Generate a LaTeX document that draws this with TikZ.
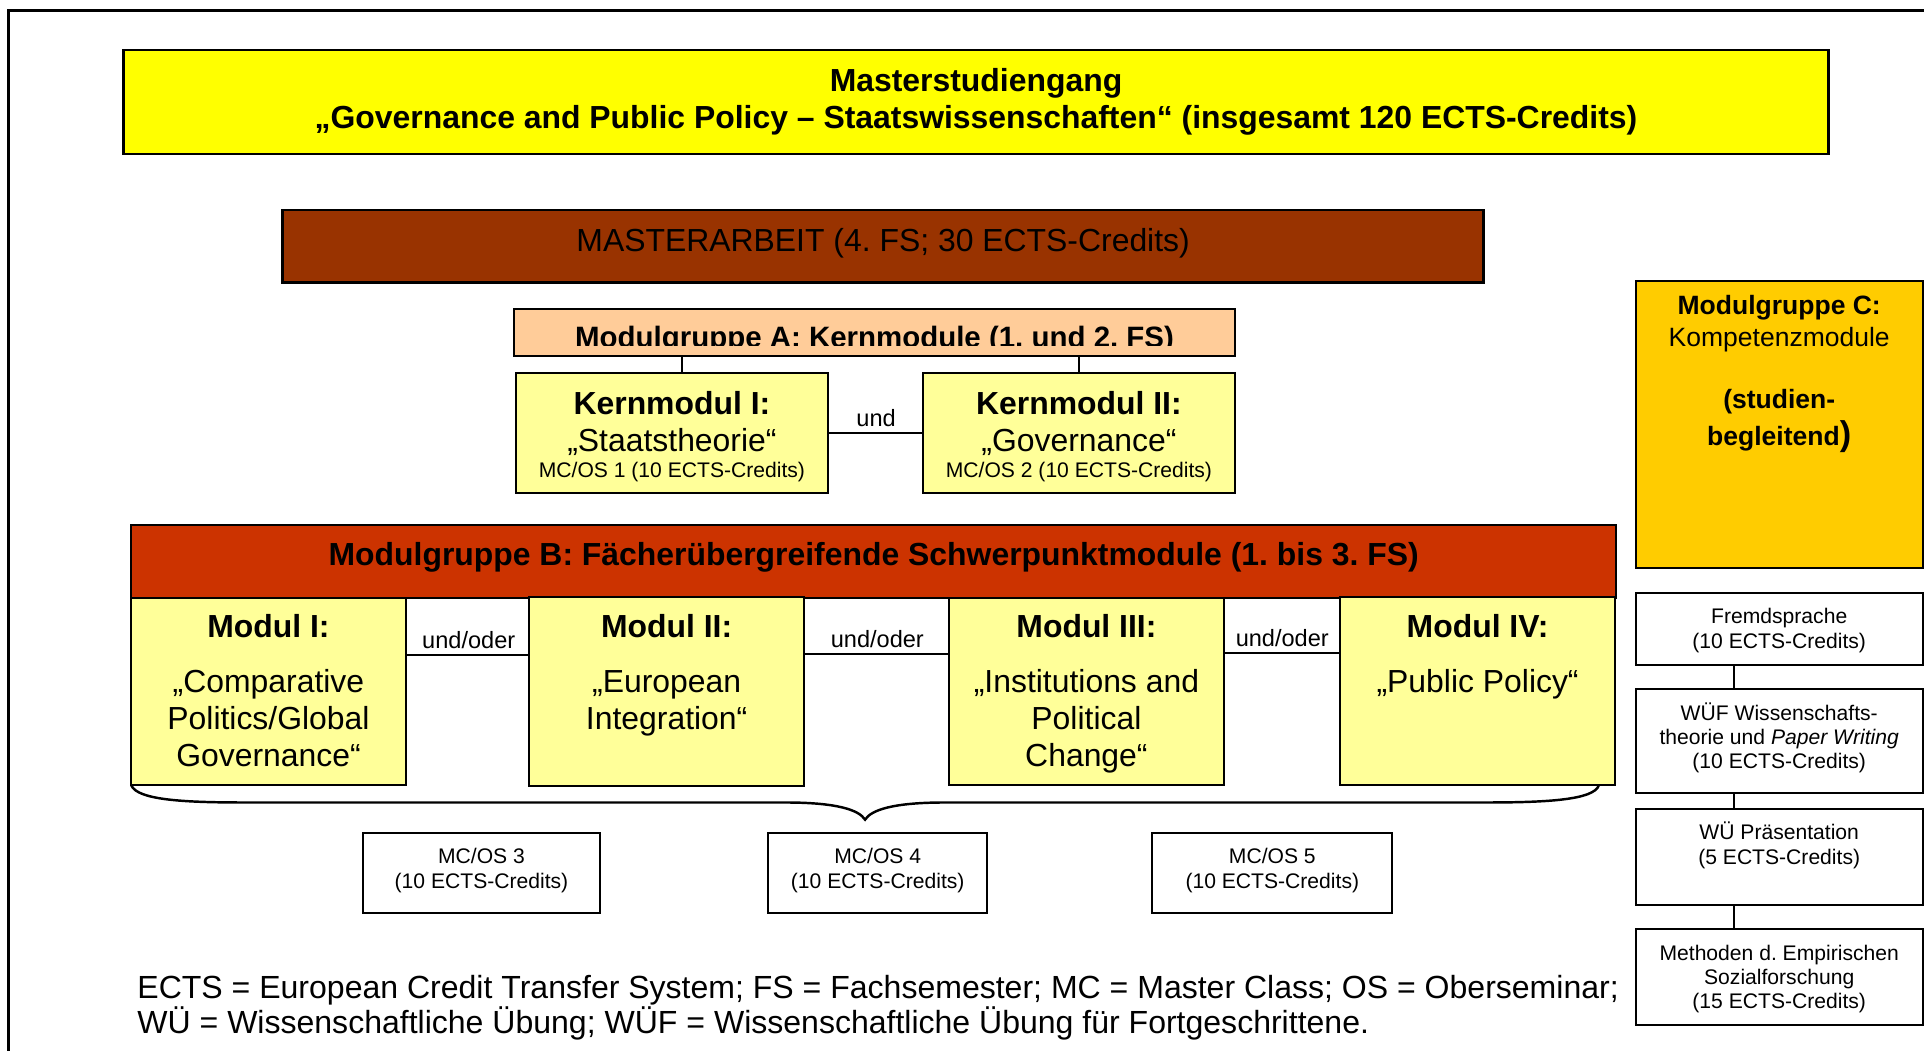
\documentclass[tikz,border=0pt]{standalone}
\usepackage{fontspec}
\setmainfont{Liberation Sans}
\usetikzlibrary{fit}
\frenchspacing
\definecolor{titleyellow}{HTML}{FFFF00}
\definecolor{mabrown}{HTML}{993300}
\definecolor{apeach}{HTML}{FFCC99}
\definecolor{lightyellow}{HTML}{FFFF99}
\definecolor{bred}{HTML}{CC3300}
\definecolor{cgold}{HTML}{FFCC00}
\tikzset{
  box/.style={draw=black, line width=0.8pt, inner sep=0pt, outer sep=0pt},
  thickbox/.style={box, line width=1.1pt},
  conn/.style={draw=black, line width=0.8pt},
  txt/.style={anchor=base, inner sep=0pt, outer sep=0pt, text=black},
  bigb/.style={font=\fontsize{13}{15}\selectfont\bfseries},
  big/.style={font=\fontsize{13}{15}\selectfont},
  foot/.style={font=\fontsize{13.05}{15}\selectfont},
  midb/.style={font=\fontsize{12}{14}\selectfont\bfseries},
  sm/.style={font=\fontsize{8.6}{10}\selectfont},
  smi/.style={font=\fontsize{9.6}{11}\selectfont},
  cf/.style={font=\fontsize{10.8}{12.5}\selectfont},
  cfb/.style={font=\fontsize{10.8}{12.5}\selectfont\bfseries},
}
\begin{document}
\begin{tikzpicture}[x=0.5pt,y=-0.5pt]
\useasboundingbox (0,0) rectangle (1568,856.5);
\fill[white] (0,0) rectangle (1568,856.5);
% outer frame (runs off the right and bottom edges)
\draw[line width=1.2pt] (7.3,900) -- (7.3,8.2) -- (1620,8.2);

% title
\node[thickbox, fill=titleyellow, fit={(100.8,40.8) (1490,125.5)}] (T) {};
\node[txt, bigb] (t1) at (795.4,74.6) {Masterstudiengang};
\node[txt, bigb] (t2) at (795.4,104.6) {„Governance and Public Policy – Staatswissenschaften“ (insgesamt 120 ECTS-Credits)};

% Masterarbeit
\node[thickbox, fill=mabrown, fit={(230.3,171.2) (1209,230.5)}] (MA) {};
\node[txt, big] (tma) at (719.7,205) {MASTERARBEIT (4. FS; 30 ECTS-Credits)};

% Modulgruppe A
\node[box, fill=apeach, fit={(418.8,251.5) (1006.6,290)}] (A) {};
\begin{scope}
  \clip (418.8,251.5) rectangle (1006.6,281.6);
  \node[txt, midb] (tA) at (712.7,283.2) {Modulgruppe A: Kernmodule (1. und 2. FS)};
\end{scope}

\node[box, fill=lightyellow, fit={(420.4,303.7) (674.8,401.5)}] (KI) {};
\node[box, fill=lightyellow, fit={(752,303.7) (1006.6,401.5)}] (KII) {};
\draw[conn] ([xshift=3.95pt]KI.north) -- ([xshift=3.95pt]KI.north |- A.south);
\draw[conn] (KII.north) -- (KII.north |- A.south);
\draw[conn] (KI.east) -- (KII.west);
\node[txt, smi] (und) at (714,347.5) {und};

\node[txt, bigb] (k1a) at (547.6,338) {Kernmodul I:};
\node[txt, big]  (k1b) at (547.6,367.7) {„Staatstheorie“};
\node[txt, sm]   (k1c) at (547.6,389) {MC/OS 1 (10 ECTS-Credits)};
\node[txt, bigb] (k2a) at (879.3,338) {Kernmodul II:};
\node[txt, big]  (k2b) at (879.3,367.7) {„Governance“};
\node[txt, sm]   (k2c) at (879.3,389) {MC/OS 2 (10 ECTS-Credits)};

% Modulgruppe B
\node[box, fill=bred, fit={(107,427.9) (1317,487)}] (B) {};
\node[txt, bigb] (tB) at (712,461) {Modulgruppe B: Fächerübergreifende Schwerpunktmodule (1. bis 3. FS)};

\node[box, fill=lightyellow, fit={(107,487) (330.5,640)}] (M1) {};
\node[box, fill=lightyellow, fit={(431.5,486.3) (655,640.6)}] (M2) {};
\node[box, fill=lightyellow, fit={(773.5,487.5) (997.2,640)}] (M3) {};
\node[box, fill=lightyellow, fit={(1092.4,486.5) (1316,640)}] (M4) {};

\draw[conn] ([yshift=14.75pt]M1.east) -- ([yshift=14.75pt]M1.east -| M2.west);
\draw[conn] ([yshift=15.25pt]M2.east) -- ([yshift=15.25pt]M2.east -| M3.west);
\draw[conn] ([yshift=15.75pt]M3.east) -- ([yshift=15.75pt]M3.east -| M4.west);
\node[txt, smi] (uo1) at (382,528.5) {und/oder};
\node[txt, smi] (uo2) at (715,527.5) {und/oder};
\node[txt, smi] (uo3) at (1045,527) {und/oder};

\node[txt, bigb] (m1a) at (218.8,519.4) {Modul I:};
\node[txt, big]  (m1b) at (218.8,564.5) {„Comparative};
\node[txt, big]  (m1c) at (218.8,594.5) {Politics/Global};
\node[txt, big]  (m1d) at (218.8,624.5) {Governance“};
\node[txt, bigb] (m2a) at (543.3,519.4) {Modul II:};
\node[txt, big]  (m2b) at (543.3,564.5) {„European};
\node[txt, big]  (m2c) at (543.3,594.5) {Integration“};
\node[txt, bigb] (m3a) at (885.4,519.4) {Modul III:};
\node[txt, big]  (m3b) at (885.4,564.5) {„Institutions and};
\node[txt, big]  (m3c) at (885.4,594.5) {Political};
\node[txt, big]  (m3d) at (885.4,624.5) {Change“};
\node[txt, bigb] (m4a) at (1204.2,519.4) {Modul IV:};
\node[txt, big]  (m4b) at (1204.2,564.5) {„Public Policy“};

% brace
\draw[line width=1pt] (M1.south west) .. controls (112,652) and (150,654) .. (200,654)
  -- (640,654) .. controls (682,654) and (700,660) .. (705,668)
  .. controls (710,660) and (728,654) .. (770,654)
  -- (1210,654) .. controls (1260,654) and (1299,652) .. (1303,640);

% MC/OS boxes
\node[box, fit={(295.7,678.6) (489,744.4)}] (OS3) {};
\node[box, fit={(626,678.6) (804.5,744.4)}] (OS4) {};
\node[box, fit={(939,678.6) (1134.7,744.4)}] (OS5) {};
\node[txt, sm] (o3a) at (392.4,704) {MC/OS 3};
\node[txt, sm] (o3b) at (392.4,723.8) {(10 ECTS-Credits)};
\node[txt, sm] (o4a) at (715.3,704) {MC/OS 4};
\node[txt, sm] (o4b) at (715.3,723.8) {(10 ECTS-Credits)};
\node[txt, sm] (o5a) at (1036.9,704) {MC/OS 5};
\node[txt, sm] (o5b) at (1036.9,723.8) {(10 ECTS-Credits)};

% right column
\node[box, fill=cgold, fit={(1333,228.7) (1567,463.2)}] (C) {};
\node[txt, cfb] (c1) at (1450,256.7) {Modulgruppe C:};
\node[txt, cf]  (c2) at (1450,282) {Kompetenzmodule};
\node[txt, cfb] (c3) at (1450,333) {(studien-};
\node[txt, cfb] (c4) at (1450,363) {begleitend{\fontsize{14}{14}\selectfont)}};

\node[box, fit={(1333,483.6) (1567,542)}] (F) {};
\node[box, fit={(1333,561.8) (1567,646)}] (W) {};
\node[box, fit={(1333,659.6) (1567,737.6)}] (P) {};
\node[box, fit={(1333,757.4) (1567,835.4)}] (Me) {};
\draw[conn] ([xshift=-18.5pt]F.south) -- ([xshift=-18.5pt]F.south |- W.north);
\draw[conn] ([xshift=-18.5pt]W.south) -- ([xshift=-18.5pt]W.south |- P.north);
\draw[conn] ([xshift=-18.5pt]P.south) -- ([xshift=-18.5pt]P.south |- Me.north);

\node[txt, sm] (f1) at (1450,508.5) {Fremdsprache};
\node[txt, sm] (f2) at (1450,528.3) {(10 ECTS-Credits)};
\node[txt, sm] (w1) at (1450,586.8) {WÜF Wissenschafts-};
\node[txt, sm] (w2) at (1450,606.4) {theorie und \textit{Paper Writing}};
\node[txt, sm] (w3) at (1450,626) {(10 ECTS-Credits)};
\node[txt, sm] (p1) at (1450,684.5) {WÜ Präsentation};
\node[txt, sm] (p2) at (1450,704.2) {(5 ECTS-Credits)};
\node[txt, sm] (e1) at (1450,782.4) {Methoden d. Empirischen};
\node[txt, sm] (e2) at (1450,802) {Sozialforschung};
\node[txt, sm] (e3) at (1450,821.6) {(15 ECTS-Credits)};

% footnote
\node[txt, foot, anchor=base west] (fn1) at (112,813.5) {ECTS = European Credit Transfer System; FS = Fachsemester; MC = Master Class; OS = Oberseminar;};
\node[txt, foot, anchor=base west] (fn2) at (112,842) {WÜ = Wissenschaftliche Übung; WÜF = Wissenschaftliche Übung für Fortgeschrittene.};
\end{tikzpicture}
\end{document}
